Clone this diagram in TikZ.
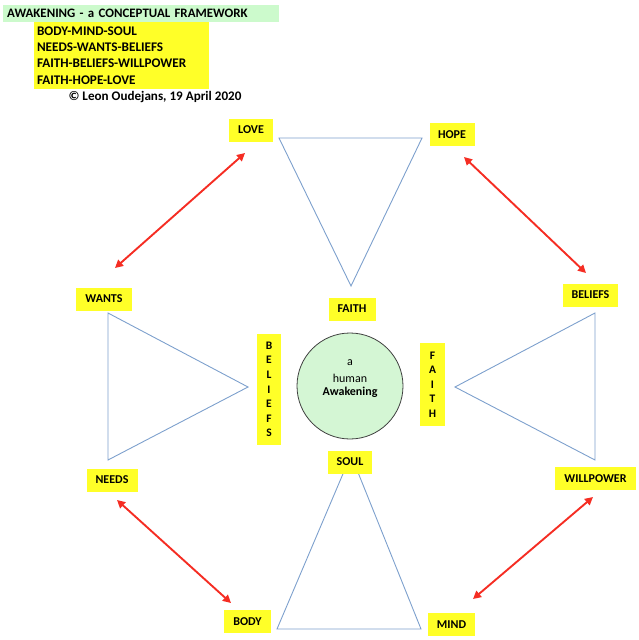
\documentclass[tikz,border=0pt]{standalone}
\usepackage{fontspec}
\setmainfont{Carlito}
\usetikzlibrary{arrows.meta}
\definecolor{lblyellow}{RGB}{255,255,40}
\definecolor{titlegreen}{RGB}{204,250,204}
\definecolor{circgreen}{RGB}{212,246,212}
\definecolor{triblue}{RGB}{125,160,205}
\definecolor{arrred}{RGB}{245,45,35}
\tikzset{
  lbl/.style={fill=lblyellow, inner sep=0pt, minimum height=23pt, font=\bfseries\fontsize{12}{13}\selectfont},
  vlbl/.style={fill=lblyellow, inner sep=0pt, align=center, font=\bfseries\fontsize{11.5}{14.6}\selectfont},
  tri/.style={draw=triblue, line width=0.9pt, line join=miter},
  dbl/.style={draw=arrred, line width=1.9pt, {Triangle[length=8pt,width=8pt]}-{Triangle[length=8pt,width=8pt]}, shorten <=0pt, shorten >=0pt}
}
\begin{document}
\begin{tikzpicture}[x=1pt,y=-1pt]
\useasboundingbox (0,0) rectangle (639,640);
% header
\node[fill=titlegreen, inner sep=0pt, minimum width=276pt, minimum height=17pt, text width=268pt, align=left, anchor=west, font=\bfseries\fontsize{12.9}{14}\selectfont] (title) at (3,13.5) {AWAKENING - a CONCEPTUAL FRAMEWORK};
\node[fill=lblyellow, inner sep=0pt, minimum width=175pt, minimum height=67pt, text width=169pt, align=left, font=\bfseries\fontsize{13.2}{16.3}\selectfont] (list) at (121.5,55.5) {BODY-MIND-SOUL\\NEEDS-WANTS-BELIEFS\\FAITH-BELIEFS-WILLPOWER\\FAITH-HOPE-LOVE};
\node[inner sep=0pt, font=\bfseries\fontsize{13.1}{14}\selectfont] (copy) at (155,97) {© Leon Oudejans, 19 April 2020};
% triangles
\draw[tri] (279,138) -- (422,138) -- (351,286) -- cycle;
\draw[tri] (108,313) -- (108,460) -- (248,387) -- cycle;
\draw[tri] (595,313) -- (595,460) -- (455,387) -- cycle;
\draw[tri] (277,629) -- (421,629) -- (351,455) -- cycle;
% labels
\node[lbl, minimum width=44pt] (love) at (251,130) {LOVE};
\node[lbl, minimum width=45pt] (hope) at (452,134.5) {HOPE};
\node[lbl, minimum width=47pt] (faithtop) at (352,309) {FAITH};
\node[lbl, minimum width=56pt] (wants) at (104,299) {WANTS};
\node[lbl, minimum width=51pt] (needs) at (112,480) {NEEDS};
\node[lbl, minimum width=55pt] (beliefsr) at (590.5,295) {BELIEFS};
\node[lbl, minimum width=81pt] (willpower) at (595.5,478.5) {WILLPOWER};
\node[lbl, minimum width=44pt] (soul) at (350,462) {SOUL};
\node[lbl, minimum width=47pt] (body) at (247.5,621.5) {BODY};
\node[lbl, minimum width=47pt] (mind) at (451.5,624.5) {MIND};
\node[vlbl, minimum width=24pt, minimum height=111pt] (beliefsv) at (269,389.5) {B\\E\\L\\I\\E\\F\\S};
\node[vlbl, minimum width=25pt, minimum height=83pt] (faithv) at (432.5,384.5) {F\\A\\I\\T\\H};
% circle
\node[circle, draw=black!75, line width=0.8pt, fill=circgreen, minimum size=106pt, inner sep=0pt] (core) at (350,386) {};
\node[font=\fontsize{12}{13}\selectfont, inner sep=0pt] (ca) at (350,363) {a};
\node[font=\fontsize{12}{13}\selectfont, inner sep=0pt] (ch) at (350,378) {human};
\node[font=\bfseries\fontsize{12}{13}\selectfont, inner sep=0pt] (cw) at (350,392) {Awakening};
% arrow end points
\coordinate (a1) at (245,153);
\coordinate (a2) at (115,268);
\coordinate (b1) at (464,157);
\coordinate (b2) at (586,273);
\coordinate (c1) at (117,500);
\coordinate (c2) at (231,603);
\coordinate (d1) at (473,599);
\coordinate (d2) at (593,497);
\draw[dbl] (a1) -- (a2);
\draw[dbl] (b1) -- (b2);
\draw[dbl] (c1) -- (c2);
\draw[dbl] (d1) -- (d2);
\end{tikzpicture}
\end{document}
